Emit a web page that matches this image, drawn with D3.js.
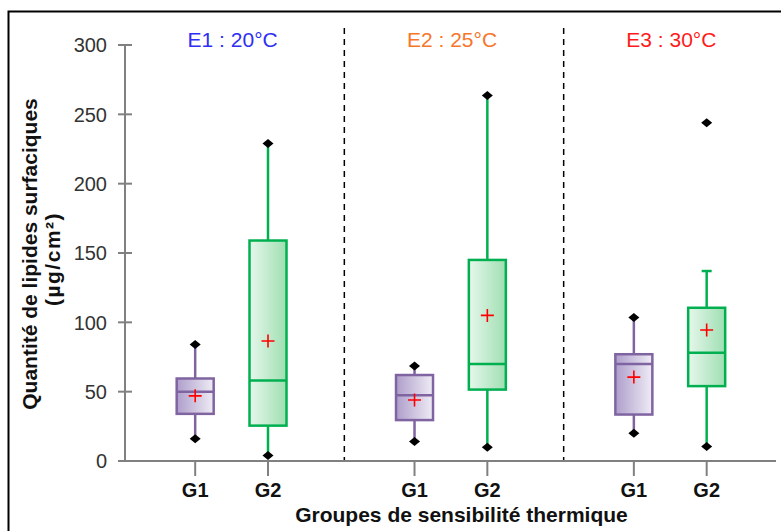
<!DOCTYPE html>
<html>
<head>
<meta charset="utf-8">
<script src="https://cdn.jsdelivr.net/npm/d3@7"></script>
<style>
  html, body { margin: 0; padding: 0; background: #fff; }
  svg { display: block; font-family: "Liberation Sans", Arial, sans-serif; }
</style>
</head>
<body>
<svg id="chart" width="781" height="531"></svg>
<script>
// ---- Data ----
const experiments = ["E1 : 20°C", "E2 : 25°C", "E3 : 30°C"];
const experimentColors = ["#2E2EF5", "#F7762B", "#FF1A1A"];
const groups = ["G1", "G2"];
// order: E1G1, E1G2, E2G1, E2G2, E3G1, E3G2
const minValues    = [16, 4, 14, 10, 20, 10.5];
const q1Values     = [34, 25.5, 29.5, 51.5, 33.5, 54];
const medianValues = [50, 58, 47.5, 70, 70, 78];
const q3Values     = [59.5, 159, 62, 145, 77, 110.5];
const whiskerHigh  = [84, 229, 68.5, 263.5, 103.5, 137];
const maxValues    = [84, 229, 68.5, 263.5, 103.5, 244];
const meanValues   = [47, 86.5, 44, 105, 60.5, 94.5];
const yTicks = [0, 50, 100, 150, 200, 250, 300];
const yTitle = ["Quantité de lipides surfaciques", "(µg/cm²)"];
const xTitle = "Groupes de sensibilité thermique";

const series = [];
experiments.forEach((e, ei) => groups.forEach((g, gi) => {
  const i = ei * groups.length + gi;
  series.push({exp: e, group: g, min: minValues[i], q1: q1Values[i], med: medianValues[i],
    q3: q3Values[i], wHigh: whiskerHigh[i], max: maxValues[i], mean: meanValues[i]});
}));

// ---- Layout ----
const svg = d3.select("#chart");
const axisX = 125, axisRight = 776, yTop = 45, yBottom = 461;

const y = d3.scaleLinear().domain([0, 300]).range([yBottom, yTop]);
const outer = d3.scaleBand().domain(experiments).range([axisX, 783]);
const bw = outer.bandwidth();
const inner = d3.scalePoint().domain(groups).range([bw * 0.32, bw * 0.652]);
const xPos = d => outer(d.exp) + inner(d.group);
const boxW = 37;

// gradients
const defs = svg.append("defs");
const gradSpecs = {
  G1: {stroke: "#8064A2", from: "#AE9ECB", to: "#EFECF5"},
  G2: {stroke: "#00B050", from: "#E6F7EB", to: "#9FDFB2"}
};
Object.entries(gradSpecs).forEach(([k, s]) => {
  const g = defs.append("linearGradient").attr("id", "grad" + k)
    .attr("x1", "0%").attr("x2", "100%").attr("y1", "0%").attr("y2", "0%");
  g.append("stop").attr("offset", "0%").attr("stop-color", s.from);
  g.append("stop").attr("offset", "100%").attr("stop-color", s.to);
});

// outer border
svg.append("rect").attr("x", 8.5).attr("y", 11.5).attr("width", 800).attr("height", 600)
  .attr("fill", "none").attr("stroke", "#000").attr("stroke-width", 2);

// dashed dividers
svg.selectAll(".divider").data(experiments.slice(1)).join("line")
  .attr("x1", d => outer(d)).attr("x2", d => outer(d))
  .attr("y1", 28).attr("y2", yBottom)
  .attr("stroke", "#000").attr("stroke-width", 1.5).attr("stroke-dasharray", "6,5");

// Y axis
const yAxis = svg.append("g").attr("transform", `translate(${axisX},0)`);
yAxis.append("line").attr("y1", y(300)).attr("y2", y(0)).attr("stroke", "#808080").attr("stroke-width", 2);
const yt = yAxis.selectAll(".yt").data(yTicks).join("g").attr("transform", d => `translate(0,${y(d)})`);
yt.append("line").attr("x1", -7).attr("x2", 7).attr("stroke", "#808080").attr("stroke-width", 2);
yt.append("text").attr("x", -18).attr("dy", "0.36em").attr("text-anchor", "end")
  .attr("font-size", 20).attr("fill", "#333").text(d => d);

// X axis
svg.append("line").attr("x1", axisX).attr("x2", axisRight).attr("y1", yBottom).attr("y2", yBottom)
  .attr("stroke", "#808080").attr("stroke-width", 2);
const xt = svg.selectAll(".xt").data(series).join("g").attr("transform", d => `translate(${xPos(d)},${yBottom})`);
xt.append("line").attr("y1", 0).attr("y2", 15).attr("stroke", "#808080").attr("stroke-width", 2);
xt.append("text").attr("y", 36).attr("text-anchor", "middle").attr("font-size", 20)
  .attr("font-weight", "bold").attr("fill", "#111").text(d => d.group);

// titles
svg.append("text").attr("x", (axisX + axisRight) / 2 + 11).attr("y", 522).attr("text-anchor", "middle")
  .attr("font-size", 21).attr("font-weight", "bold").attr("fill", "#111").text(xTitle);
const yt1 = svg.append("text").attr("transform", `translate(37,${(yTop + yBottom) / 2 + 1}) rotate(-90)`)
  .attr("text-anchor", "middle").attr("font-size", 21).attr("font-weight", "bold").attr("fill", "#111");
yt1.append("tspan").attr("x", 0).attr("y", 0).text(yTitle[0]);
yt1.append("tspan").attr("x", -5).attr("y", 23).attr("letter-spacing", 1.5).text(yTitle[1]);

svg.selectAll(".etitle").data(experiments).join("text")
  .attr("x", d => outer(d) + bw / 2 - 2).attr("y", 47).attr("text-anchor", "middle")
  .attr("font-size", 21).attr("fill", (d, i) => experimentColors[i]).text(d => d);

// boxes
const bx = svg.selectAll(".box").data(series).join("g");
bx.each(function(d) {
  const g = d3.select(this), cx = xPos(d), col = gradSpecs[d.group].stroke;
  // whiskers
  g.append("line").attr("x1", cx).attr("x2", cx).attr("y1", y(d.q3)).attr("y2", y(d.wHigh))
    .attr("stroke", col).attr("stroke-width", 2.5);
  g.append("line").attr("x1", cx).attr("x2", cx).attr("y1", y(d.q1)).attr("y2", y(d.min))
    .attr("stroke", col).attr("stroke-width", 2.5);
  if (d.wHigh !== d.max) {
    g.append("line").attr("x1", cx - 5).attr("x2", cx + 5).attr("y1", y(d.wHigh)).attr("y2", y(d.wHigh))
      .attr("stroke", col).attr("stroke-width", 2.5);
  }
  // box
  g.append("rect").attr("x", cx - boxW / 2).attr("width", boxW)
    .attr("y", y(d.q3)).attr("height", y(d.q1) - y(d.q3))
    .attr("fill", `url(#grad${d.group})`).attr("stroke", col).attr("stroke-width", 2.5);
  g.append("line").attr("x1", cx - boxW / 2).attr("x2", cx + boxW / 2).attr("y1", y(d.med)).attr("y2", y(d.med))
    .attr("stroke", col).attr("stroke-width", 2.5);
  // min / max diamonds
  [d.min, d.max].forEach(v => {
    g.append("path").attr("transform", `translate(${cx},${y(v)})`)
      .attr("d", "M-5.5,0L0,-4.5L5.5,0L0,4.5Z").attr("fill", "#000");
  });
  // mean cross
  g.append("path").attr("transform", `translate(${cx},${y(d.mean)})`)
    .attr("d", "M-6.5,0H6.5M0,-6.5V6.5").attr("stroke", "#FF0000").attr("stroke-width", 1.6).attr("fill", "none");
});
</script>
</body>
</html>
